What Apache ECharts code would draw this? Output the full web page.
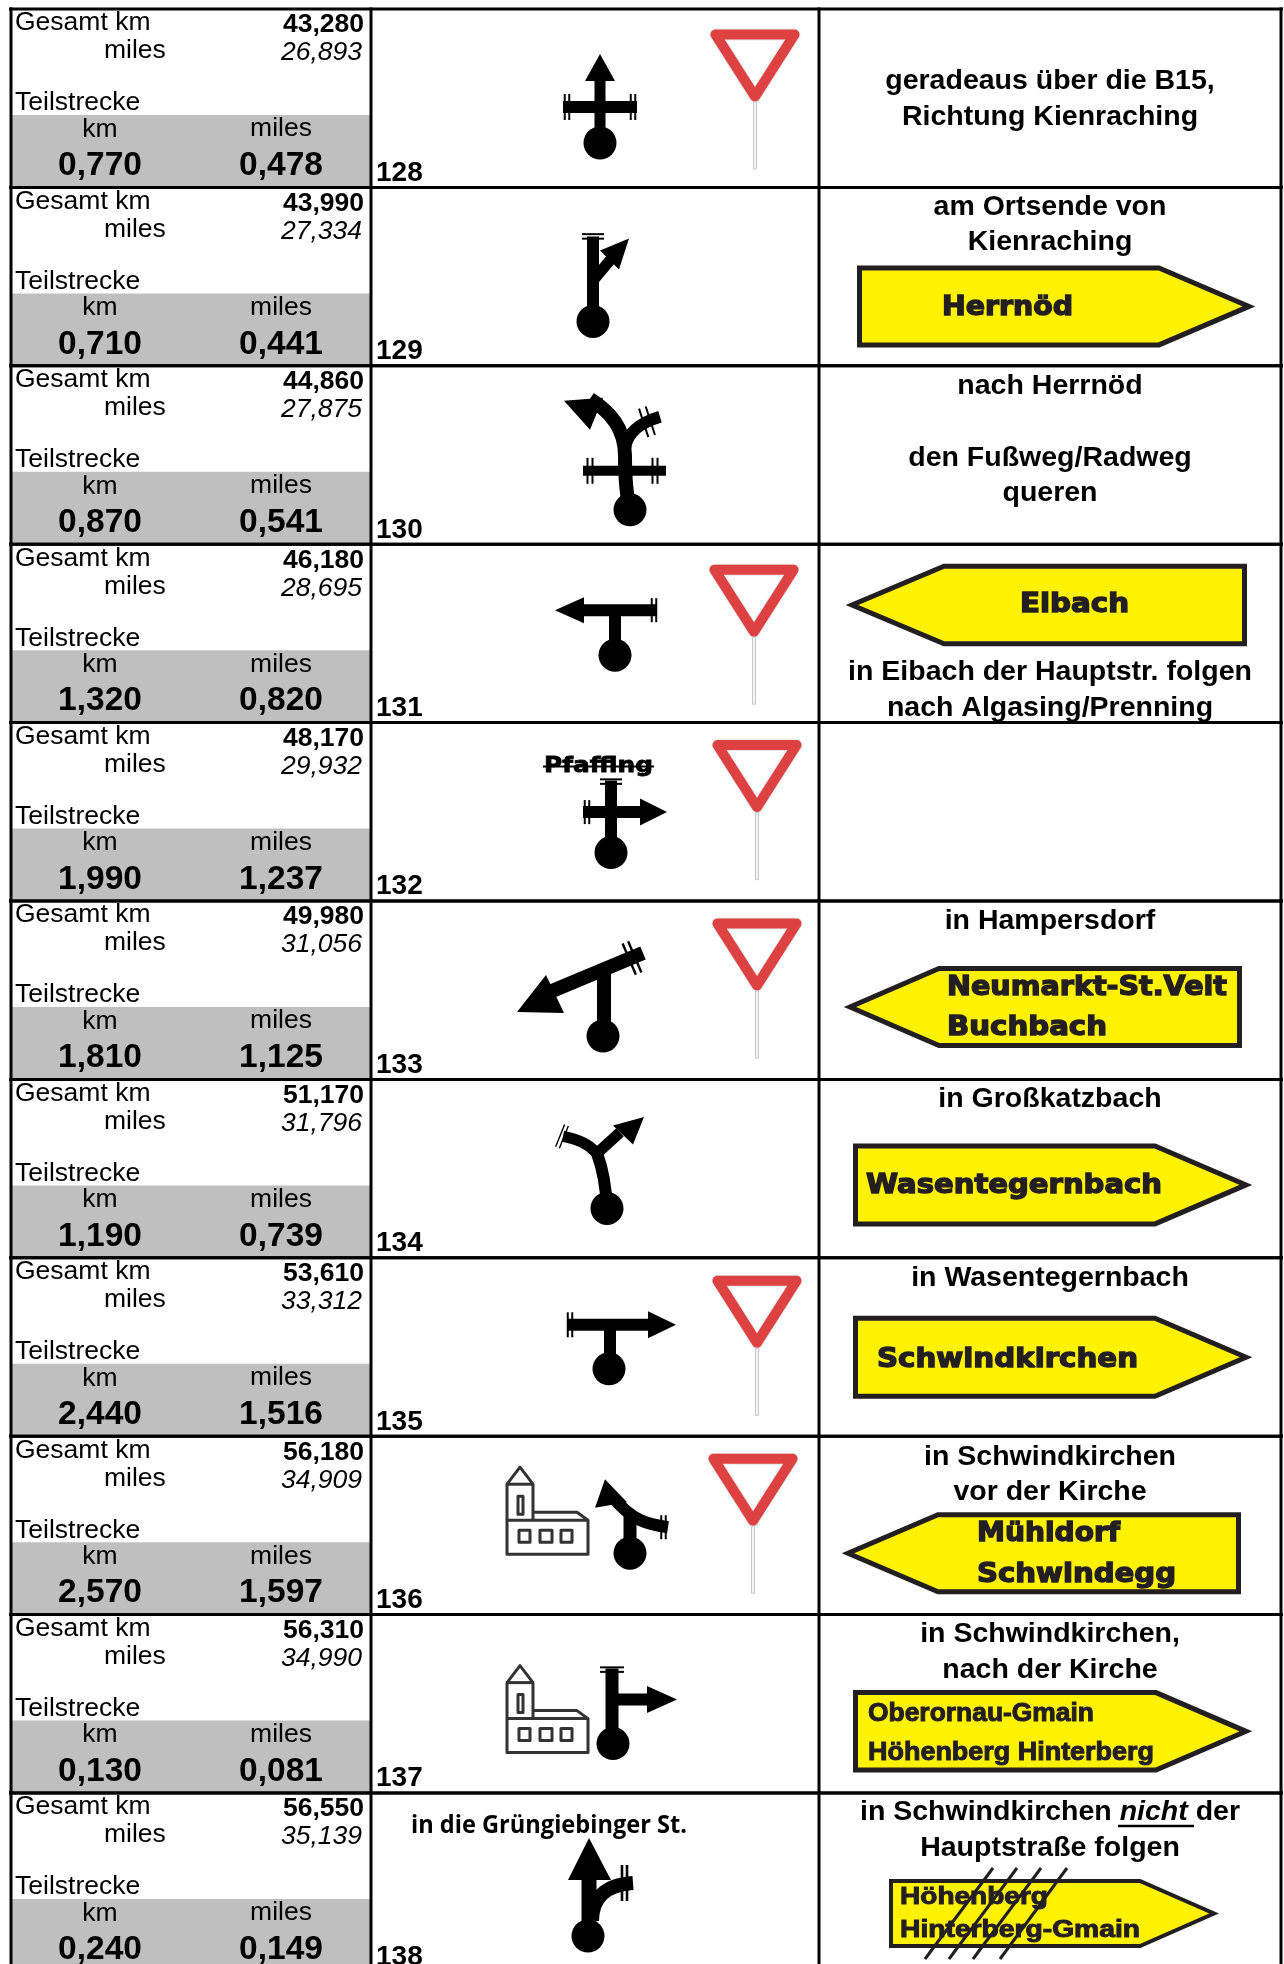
<!DOCTYPE html>
<html><head><meta charset="utf-8">
<style>html,body{margin:0;padding:0;background:#fff}#c{width:1284px;height:1964px}</style>
<script src="https://cdn.jsdelivr.net/npm/echarts@6/dist/echarts.min.js"></script>
</head><body><div id="c"></div>
<script>
// ---------- data ----------
const steps = ['128','129','130','131','132','133','134','135','136','137','138'];
const totalKm = [43.280,43.990,44.860,46.180,48.170,49.980,51.170,53.610,56.180,56.310,56.550];
const totalMiles = [26.893,27.334,27.875,28.695,29.932,31.056,31.796,33.312,34.909,34.990,35.139];
const legKm = [0.770,0.710,0.870,1.320,1.990,1.810,1.190,2.440,2.570,0.130,0.240];
const legMiles = [0.478,0.441,0.541,0.820,1.237,1.125,0.739,1.516,1.597,0.081,0.149];
const notes = [
  ['geradeaus über die B15,','Richtung Kienraching'],
  ['am Ortsende von','Kienraching'],
  ['nach Herrnöd','den Fußweg/Radweg','queren'],
  ['in Eibach der Hauptstr. folgen','nach Algasing/Prenning'],
  [],
  ['in Hampersdorf'],
  ['in Großkatzbach'],
  ['in Wasentegernbach'],
  ['in Schwindkirchen','vor der Kirche'],
  ['in Schwindkirchen,','nach der Kirche'],
  ['{a|in Schwindkirchen }{b|nicht }{a|der}','Hauptstraße folgen']
];
const signTexts = [
  [],['Herrnöd'],[],['Eibach'],[],['Neumarkt-St.Veit','Buchbach'],['Wasentegernbach'],['Schwindkirchen'],
  ['Mühldorf','Schwindegg'],['Oberornau-Gmain','Höhenberg Hinterberg'],['Höhenberg','Hinterberg-Gmain']
];
const labels = {total:'Gesamt km', miles:'miles', leg:'Teilstrecke', km:'km'};
const roadTexts = {4:'Pfaffing', 10:'in die Grüngiebinger St.'};

// ---------- layout (drawing only) ----------
const ROW_H = 178.4, TOP = 9, INK = '#000', SIGN_INK = '#231f20', YEL = '#fff200', RED = '#de4141';
const X = {l:11, a:371, b:819, r:1281};
const NOTE_Y = {0:[72,108],1:[20,55],2:[20,92,127],3:[128,164],5:[20],6:[20],7:[20],8:[20.5,56],9:[20,56],10:[19,55]};
const SIGN = {
  1:{d:1,x0:857,s:1159,tip:1254,t:78,b:160,tx:[[942,131,120.5]]},
  3:{d:-1,x0:1247,s:944,tip:847,t:19.5,b:102,tx:[[1020,109,60.5]]},
  5:{d:-1,x0:1242,s:939,tip:845,t:65,b:147,tx:[[947,280,87.5],[947,160,127.5]]},
  6:{d:1,x0:853,s:1155,tip:1251,t:64,b:147,tx:[[866,296,107]]},
  7:{d:1,x0:853,s:1155,tip:1251,t:58,b:141,tx:[[877,261,102.5]]},
  8:{d:-1,x0:1241,s:938,tip:843,t:76,b:158,tx:[[977,143,98],[977,199,139]]},
  9:{d:1,x0:853,s:1156,tip:1251,t:75.5,b:158,arial:26,tx:[[868,226,99],[868,286,138]]},
  10:{d:1,x0:889,s:1140,tip:1218,t:86,b:155,w:4,arial:24,tx:[[900,148,104],[900,240,137.5]]}
};
const YIELD = {0:[755,21],3:[754,21],4:[757,18],5:[757,18],7:[757,18.5],8:[753,18]};

// ---------- element helpers ----------
const mc = document.createElement('canvas').getContext('2d');
const txt = (x,y,text,font,align,fill) => ({type:'text',x,y,silent:true,style:{text,font,fill:fill||'#000',align:align||'left',verticalAlign:'middle'}});
const fitTxt = (x,y,w,text,font,fill,heavy) => { mc.font=font; const m=mc.measureText(text).width;
  const st={text,font,fill:fill,align:'left',verticalAlign:'middle'}; if(heavy){st.stroke=fill;st.lineWidth=heavy;}
  return {type:'text',x,y,scaleX:w/m,silent:true,style:st}; };
const rect = (x,y,w,h,fill) => ({type:'rect',shape:{x,y,width:w,height:h},style:{fill}});
const S = (d,w,c) => ({type:'path',shape:{pathData:d},style:{fill:'none',stroke:c||INK,lineWidth:w,lineJoin:'round',lineCap:'butt'}});
const F = (d,c) => ({type:'path',shape:{pathData:d},style:{fill:c||INK,stroke:'none'}});
const dot = (x,y) => ({type:'circle',shape:{cx:x,cy:y,r:16.5},style:{fill:INK}});
const ticks = (x,y,deg,hw,gap,w) => { const a=deg*Math.PI/180, ux=Math.cos(a), uy=Math.sin(a), px=-uy, py=ux, o=[];
  [-gap/2,gap/2].forEach(g=>{ const cx=x+ux*g, cy=y+uy*g; o.push(S(`M${cx-px*hw} ${cy-py*hw}L${cx+px*hw} ${cy+py*hw}`,w||2)); }); return o; };

function church(dy){ const y=v=>v+dy, c='#333', w=3; return [
  S(`M507 ${y(84)}L507 ${y(48)}L520 ${y(31)}L533 ${y(48)}L533 ${y(84)}`,w,c),
  S(`M507 ${y(48)}L533 ${y(48)}`,w,c),
  S(`M507 ${y(84)}L588 ${y(84)}L588 ${y(118)}L507 ${y(118)}Z`,w,c),
  S(`M533 ${y(76)}L577 ${y(76)}L588 ${y(84)}`,w,c),
  S(`M518 ${y(60)}L523 ${y(60)}L523 ${y(78)}L518 ${y(78)}Z`,w,c),
  S(`M519 ${y(94)}L530 ${y(94)}L530 ${y(106)}L519 ${y(106)}Z`,w,c),
  S(`M540 ${y(94)}L552 ${y(94)}L552 ${y(106)}L540 ${y(106)}Z`,w,c),
  S(`M561 ${y(94)}L572 ${y(94)}L572 ${y(106)}L561 ${y(106)}Z`,w,c)
]; }
const roads = [
  ()=>[S('M600 134L600 70',11),F('M600 45L615 72L585 72Z'),S('M563 98L637 98',12),...ticks(567,98,0,13,4.5),...ticks(633,98,0,13,4.5),dot(600,134)],
  ()=>[S('M593 134L593 49',12),...ticks(593,49,90,11,4.5),S('M594 92L614 68',11),F('M629 51L600 63L619 82Z'),dot(593,134)],
  ()=>[S('M630 144C626 128 625 112 625 90C625 62 610 46 590 33',14),S('M625 82C628 66 640 57 660 51',12),F('M564 35L603 32L590 64Z'),
       S('M583 105L666 105',10),...ticks(590,105,0,13,5),...ticks(655,105,0,13,5),...ticks(647,56,-18,15,7),dot(630,144)],
  ()=>[S('M615 111L615 66',12),S('M577 66L657 66',12),F('M555 66L584 53L584 79Z'),...ticks(654,66,0,12,4.5),dot(615,111)],
  ()=>[S('M611 130L611 58',12),S('M583 89.5L642 89.5',12),F('M667 89.5L640 76L640 103Z'),...ticks(587,89.5,0,12,4.5),...ticks(611,59,90,11,4.5),dot(611,130)],
  ()=>[S('M604 135L604 66',14),S('M643 52L552 90',14),F('M517 111L546 74L564 112Z'),...ticks(632,57,-23,17,6,2.4),dot(603,135)],
  ()=>[S('M607 129C606 108 603 90 597 74',12),S('M597 74C588 64 578 60 563 57',11),S('M597 74L620 53',11),F('M644 37.5L613 46L633 65Z'),...ticks(562,57,22,12,4,1.4),dot(607,129)],
  ()=>[S('M610 111L610 67',12),S('M567 67L650 67',12),F('M676 67L648 53.5L648 80.5Z'),...ticks(570,67,0,12.5,4.5),dot(609,111)],
  ()=>[S('M630 117L630 78',13),S('M668 91C648 88 632 85 612 60',12),F('M605 43L595 71.5L627 66Z'),...ticks(663.5,91,0,12,4.5),dot(630,117),...church(0)],
  ()=>[S('M612 129L612 54',13),S('M612 85L650 85',12),F('M677 85L647 71.5L647 98.5Z'),...ticks(612,55,90,12,4.5),dot(613,129),...church(20)],
  ()=>[S('M589 143L589 85',15),F('M589 45L611 87L568 87Z'),S('M592 128C592 105 605 92 633 90',14),...ticks(624.5,90,0,18,5,2.6),dot(588,143)]
];
function yieldSign(xc,y0){ const d=`M${xc-39.5} ${y0+4.5}L${xc+39.5} ${y0+4.5}L${xc} ${y0+66.5}Z`; return [
  S(d,12,'#e6e6e6'), S(d,10,RED),
  {type:'rect',shape:{x:xc-1.5,y:y0+72,width:3,height:67},style:{fill:'#f4f4f4',stroke:'#c8c8c8',lineWidth:1}}
]; }
function signEl(i){
  const g=SIGN[i], w=g.w||5, h=w/2, d=g.d, x0=g.x0+d*h, tip=g.tip-d*w, t=g.t+h, b=g.b-h, m=(g.t+g.b)/2, o=[];
  o.push({type:'path',shape:{pathData:`M${x0} ${t}L${g.s} ${t}L${tip} ${m}L${g.s} ${b}L${x0} ${b}Z`},
    style:{fill:YEL,stroke:SIGN_INK,lineWidth:w,lineJoin:'miter',miterLimit:10}});
  const font=g.arial?`bold ${g.arial}px "Liberation Sans"`:'bold 26.5px "DejaVu Sans"';
  g.tx.forEach((p,k)=>o.push(fitTxt(p[0],p[2],p[1],signTexts[i][k],font,SIGN_INK,g.arial?1:1.4)));
  return o;
}
const fmt = v => v.toFixed(3).replace('.',',');
const BODY = '26.5px "Liberation Sans"', BOLD = 'bold 26.5px "Liberation Sans"', ITAL = 'italic 26.5px "Liberation Sans"', NOTE='bold 28.5px "Liberation Sans"';

function renderRow(params, api){
  const i = api.value(1), cy = api.coord([0,i])[1], bh = api.size([0,1])[1], T = cy-bh/2;
  const ch = [];
  // km column
  ch.push(rect(X.l,106,X.a-X.l,bh-106,'#bfbfbf'));
  ch.push(txt(15,14,labels.total,BODY), txt(104,42,labels.miles,BODY), txt(15,94,labels.leg,BODY));
  ch.push(txt(364,16,fmt(totalKm[i]),BOLD,'right'), txt(362,44,fmt(totalMiles[i]),ITAL,'right'));
  ch.push(txt(100,120.5,labels.km,BODY,'center'), txt(281,120,labels.miles,BODY,'center'));
  ch.push(txt(100,157,fmt(legKm[i]),'bold 33.5px "Liberation Sans"','center'), txt(281,157,fmt(legMiles[i]),'bold 33.5px "Liberation Sans"','center'));
  ch.push(txt(376,164,steps[i],'bold 28px "Liberation Sans"'));
  // road diagram
  if (YIELD[i]) ch.push(...yieldSign(YIELD[i][0],YIELD[i][1]));
  ch.push(...roads[i]());
  if (i===4){ ch.push(fitTxt(544,44,109,roadTexts[4],'bold 22px "DejaVu Sans"',INK,0.8), S('M543 44L654 44',2)); }
  if (i===10) ch.push(fitTxt(411,33,276,roadTexts[10],'bold 25px "Open Sans"',INK));
  // instructions
  (notes[i]||[]).forEach((t,k)=>{
    const el = txt(1050,NOTE_Y[i][k],t,NOTE,'center');
    if (t.indexOf('{')===0) el.style.rich = {a:{font:NOTE,fill:'#000'},b:{font:'italic '+NOTE,fill:'#000'}};
    ch.push(el);
  });
  if (i===10) ch.push(S('M1118 33L1194 33',2.4));
  if (SIGN[i]) ch.push(...signEl(i));
  if (i===10) [[993,75,925,166],[1017,75,949,166],[1041,75,973,166],[1067,75,1000,166]].forEach(l=>ch.push(S(`M${l[0]} ${l[1]}L${l[2]} ${l[3]}`,3,SIGN_INK)));
  // table rules
  const b = bh+1;
  ch.push(rect(X.l-2,-1.5,X.r-X.l+4,3,INK), rect(X.l-2,bh-1.5,X.r-X.l+4,3,INK));
  [X.l,X.a,X.b,X.r].forEach(x=>ch.push(rect(x-1.5,-1.5,3,b,INK)));
  return {type:'group',x:0,y:T,children:ch};
}

const chart = echarts.init(document.getElementById('c'),null,{renderer:'canvas'});
chart.setOption({
  animation:false,
  backgroundColor:'#fff',
  grid:{left:0,top:TOP,width:1284,height:ROW_H*steps.length,containLabel:false,outerBoundsMode:'none'},
  xAxis:{type:'value',min:0,max:1284,show:false},
  yAxis:{type:'category',inverse:true,data:steps,show:false},
  series:[{type:'custom',silent:true,clip:false,coordinateSystem:'cartesian2d',
    renderItem:renderRow,encode:{x:0,y:1},data:steps.map((s,i)=>[0,i])}]
});
</script></body></html>
